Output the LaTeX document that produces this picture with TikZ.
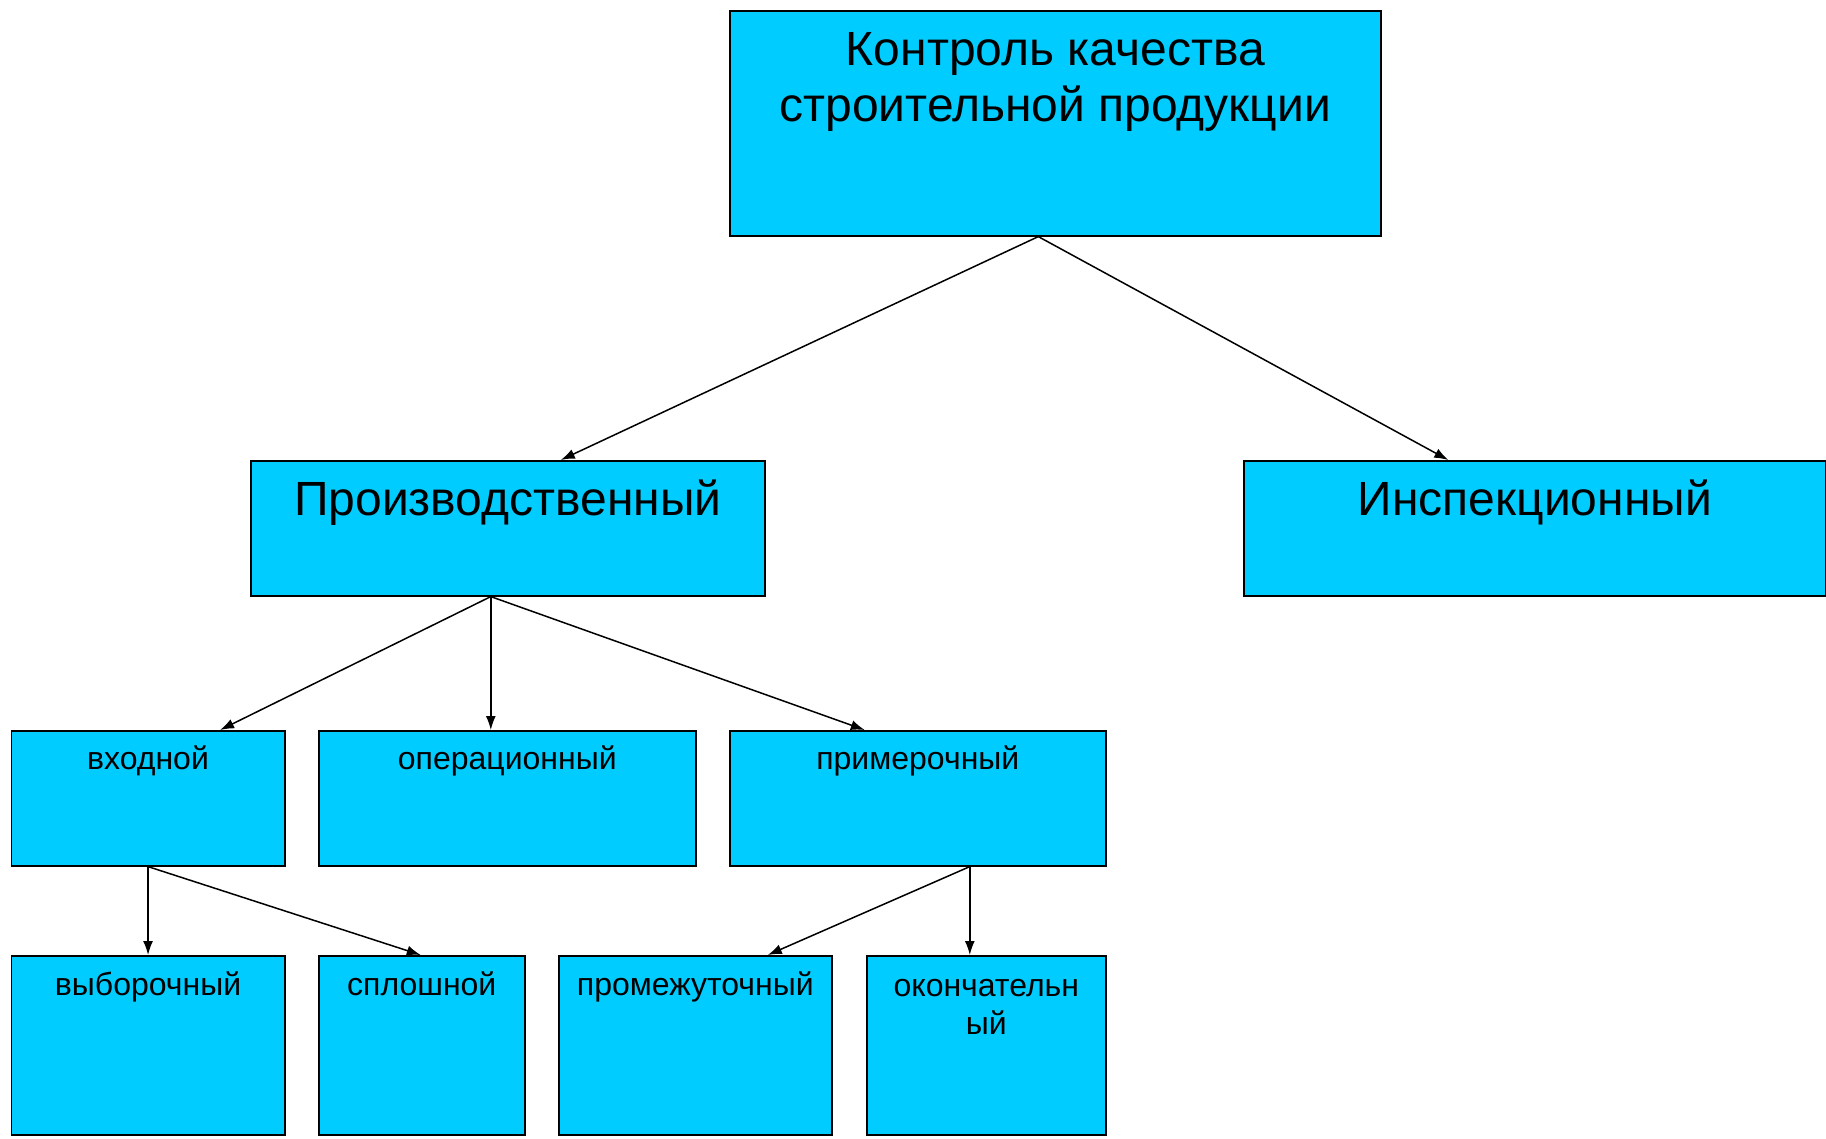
\documentclass[tikz,border=0pt]{standalone}
\usepackage{fontspec}
\setmainfont{Liberation Sans}
\usetikzlibrary{arrows.meta}
\definecolor{boxcyan}{HTML}{00CCFF}
\tikzset{%
  kbox/.style      = {shape=rectangle, draw, fill=boxcyan, line width=1.6pt,%
                      anchor=north west, inner sep=0pt},%
  bigtext/.style   = {anchor=base, align=center, inner sep=0pt,%
                      font=\fontsize{48}{56}\selectfont},%
  smalltext/.style = {anchor=base, align=center, inner sep=0pt,%
                      font=\fontsize{32}{38}\selectfont},%
  link/.style      = {-{Latex[length=14pt,width=10pt]}, line width=1.5pt}%
}
\begin{document}
\begin{tikzpicture}[x=1pt,y=-1pt]
		\useasboundingbox[fill=white] (0,0) rectangle (1826,1139);
		\node[kbox, minimum width=651, minimum height=224.5] (kontrol) at (729,10.5) {};
		\node[kbox, minimum width=514, minimum height=135] (proizv) at (250,460) {};
		\node[kbox, minimum width=582, minimum height=135] (inspek) at (1243,460) {};
		\node[kbox, minimum width=273.5, minimum height=135] (vhod) at (10.5,730) {};
		\node[kbox, minimum width=377, minimum height=135] (oper) at (318,730) {};
		\node[kbox, minimum width=376, minimum height=135] (primer) at (729,730) {};
		\node[kbox, minimum width=273.5, minimum height=179] (vybor) at (10.5,955) {};
		\node[kbox, minimum width=206, minimum height=179] (splosh) at (318,955) {};
		\node[kbox, minimum width=273, minimum height=179] (promezh) at (558,955) {};
		\node[kbox, minimum width=239, minimum height=179] (okonch) at (866,955) {};
		\node[bigtext] (kontrolT) at ([yshift=-111.5]kontrol.north) {Контроль качества\\строительной продукции};
		\node[bigtext] (proizvT) at ([yshift=-55]proizv.north) {Производственный};
		\node[bigtext] (inspekT) at ([yshift=-55]inspek.north) {Инспекционный};
		\node[smalltext] (vhodT) at ([yshift=-39]vhod.north) {входной};
		\node[smalltext] (operT) at ([yshift=-39]oper.north) {операционный};
		\node[smalltext] (primerT) at ([yshift=-39]primer.north) {примерочный};
		\node[smalltext] (vyborT) at ([yshift=-40]vybor.north) {выборочный};
		\node[smalltext] (sploshT) at ([yshift=-40]splosh.north) {сплошной};
		\node[smalltext] (promezhT) at ([yshift=-40]promezh.north) {промежуточный};
		\node[smalltext] (okonchT) at ([yshift=-79]okonch.north) {окончательн\\ый};
		\draw[link] ([xshift=-17]kontrol.south) -- ([xshift=53]proizv.north);
		\draw[link] ([xshift=-17]kontrol.south) -- ([xshift=-86.5]inspek.north);
		\draw[link] ([xshift=-17]proizv.south) -- ([xshift=72]vhod.north);
		\draw[link] ([xshift=-17]proizv.south) -- ([xshift=-16.5]oper.north);
		\draw[link] ([xshift=-17]proizv.south) -- ([xshift=-53]primer.north);
		\draw[link] (vhod.south) -- (vybor.north);
		\draw[link] (vhod.south) -- ([xshift=-1]splosh.north);
		\draw[link] ([xshift=52]primer.south) -- ([xshift=72.5]promezh.north);
		\draw[link] ([xshift=52]primer.south) -- ([xshift=-16.5]okonch.north);
\end{tikzpicture}
\end{document}
